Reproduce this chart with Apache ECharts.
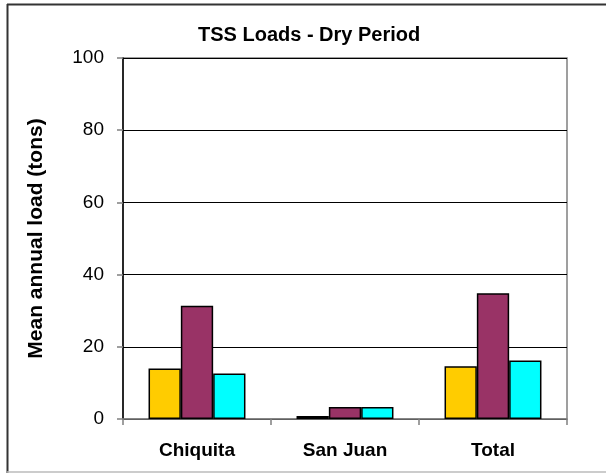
<!DOCTYPE html>
<html><head><meta charset="utf-8">
<script src="https://cdn.jsdelivr.net/npm/echarts@6/dist/echarts.min.js"></script>
<style>html,body{margin:0;padding:0;background:#fff}#c{width:606px;height:473px}</style>
</head><body><div id="c"></div>
<script>
const categories = ['Chiquita', 'San Juan', 'Total'];
const seriesA = [14.0, 0.8, 14.6];
const seriesB = [31.4, 3.3, 34.8];
const seriesC = [12.6, 3.3, 16.2];
const yTicks = [0, 20, 40, 60, 80, 100];

const chart = echarts.init(document.getElementById('c'));
const FONT = 'Liberation Sans, Arial, sans-serif';
const barStyle = c => ({color: c, borderColor: '#000', borderWidth: 1.5});
chart.setOption({
  animation: false,
  backgroundColor: '#fff',
  title: {text: 'TSS Loads - Dry Period', left: 193, top: 20,
    textStyle: {fontFamily: FONT, fontWeight: 'bold', fontSize: 20, color: '#000'}},
  grid: {left: 123, right: 39, top: 58, bottom: 54, show: true, borderColor: '#808080', borderWidth: 1.5},
  xAxis: {type: 'category', data: categories,
    axisLine: {lineStyle: {color: '#808080', width: 1.5}},
    axisTick: {show: true, length: 6, lineStyle: {color: '#808080', width: 1.5}},
    axisLabel: {margin: 22, fontFamily: FONT, fontWeight: 'bold', fontSize: 19, color: '#000'}},
  yAxis: {type: 'value', min: 0, max: 100, interval: 20,
    name: 'Mean annual load (tons)', nameLocation: 'middle', nameGap: 76,
    nameTextStyle: {fontFamily: FONT, fontWeight: 'bold', fontSize: 21, color: '#000'},
    axisLine: {show: true, lineStyle: {color: '#000', width: 1.5}},
    axisTick: {show: true, inside: false, length: 6, lineStyle: {color: '#808080', width: 1.5}},
    splitLine: {lineStyle: {color: '#000', width: 1}},
    axisLabel: {margin: 19, fontFamily: FONT, fontSize: 19, color: '#000',
      formatter: v => yTicks.includes(v) ? String(v) : ''}},
  series: [
    {type: 'bar', data: seriesA, itemStyle: barStyle('#FFCC00'), barGap: '0%', barCategoryGap: '34.5%'},
    {type: 'bar', data: seriesB, itemStyle: barStyle('#993366'), barGap: '0%', barCategoryGap: '34.5%'},
    {type: 'bar', data: seriesC, itemStyle: barStyle('#00FFFF'), barGap: '0%', barCategoryGap: '34.5%'}
  ],
  graphic: [
    {type: 'line', shape: {x1: 7, y1: 4.5, x2: 606, y2: 4.5}, style: {stroke: '#333', lineWidth: 2}},
    {type: 'line', shape: {x1: 7.5, y1: 4, x2: 7.5, y2: 473}, style: {stroke: '#333', lineWidth: 2}},
    {type: 'line', shape: {x1: 7, y1: 472, x2: 606, y2: 472}, style: {stroke: '#bbb', lineWidth: 1.5}}
  ]
});
</script></body></html>
